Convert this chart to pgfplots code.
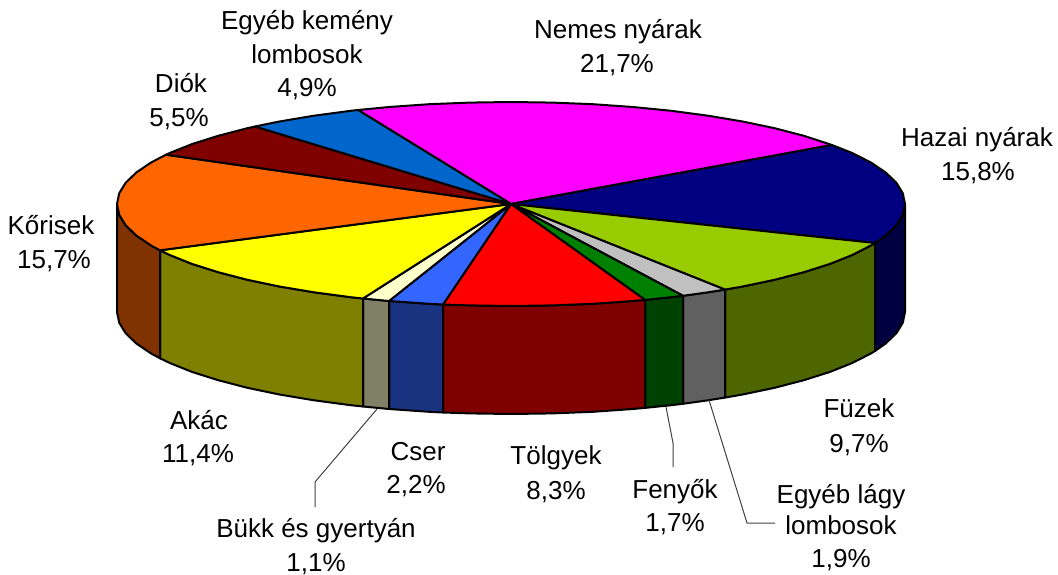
\documentclass[border=0pt]{standalone}
\usepackage{pgfplots}
\pgfplotsset{compat=1.18}
\usepackage{fontspec}
\setmainfont{Liberation Sans}
\definecolor{cNemes}{HTML}{FF00FF}
\definecolor{cHazai}{HTML}{000080}
\definecolor{cHazaiW}{HTML}{000040}
\definecolor{cFuzek}{HTML}{99CC00}
\definecolor{cFuzekW}{HTML}{4D6600}
\definecolor{cLagy}{HTML}{C0C0C0}
\definecolor{cLagyW}{HTML}{606060}
\definecolor{cFeny}{HTML}{008000}
\definecolor{cFenyW}{HTML}{004000}
\definecolor{cTolgy}{HTML}{FF0000}
\definecolor{cTolgyW}{HTML}{800000}
\definecolor{cCser}{HTML}{3366FF}
\definecolor{cCserW}{HTML}{1A3380}
\definecolor{cBukk}{HTML}{FFFFCC}
\definecolor{cBukkW}{HTML}{808066}
\definecolor{cAkac}{HTML}{FFFF00}
\definecolor{cAkacW}{HTML}{808000}
\definecolor{cKoris}{HTML}{FF6600}
\definecolor{cKorisW}{HTML}{803300}
\definecolor{cDio}{HTML}{800000}
\definecolor{cKemeny}{HTML}{0066CC}
\begin{document}
\begin{tikzpicture}[
  lab/.style={font=\fontsize{26}{26}\selectfont,text=black,inner sep=0pt,anchor=base},
  lead/.style={draw=black!75,line width=1pt}]
\begin{axis}[
  hide axis, scale only axis, width=1058pt, height=575pt, clip=false,
  xmin=0, xmax=1058, ymin=0, ymax=575, y dir=reverse,
  sl/.style={draw=black,line width=2pt,line join=round,mark=none},
]
\path (axis cs:0,0) rectangle (axis cs:1058,575);
% side walls
\addplot[sl,fill=cHazaiW] coordinates {(905,204)(902.8,214.7)(896.4,225.2)(885.7,235.5)(875,243)(875,351)(885.7,343.5)(896.4,333.2)(902.8,322.7)(905,312)} -- cycle;
\addplot[sl,fill=cFuzekW] coordinates {(875,243)(870.9,245.5)(852.2,255)(829.7,264)(803.8,272.2)(774.6,279.8)(742.6,286.5)(725,289.6)(725,397.6)(742.6,394.5)(774.6,387.8)(803.8,380.2)(829.7,372)(852.2,363)(870.9,353.5)(875,351)} -- cycle;
\addplot[sl,fill=cLagyW] coordinates {(725,289.6)(708,292.3)(683,295.8)(683,403.8)(708,400.3)(725,397.6)} -- cycle;
\addplot[sl,fill=cFenyW] coordinates {(683,295.8)(671.3,297.2)(645,299.9)(645,407.9)(671.3,405.2)(683,403.8)} -- cycle;
\addplot[sl,fill=cTolgyW] coordinates {(645,299.9)(632.8,301)(592.9,303.8)(552.2,305.4)(511,306)(469.8,305.4)(443,304.5)(443,412.5)(469.8,413.4)(511,414)(552.2,413.4)(592.9,411.8)(632.8,409)(645,407.9)} -- cycle;
\addplot[sl,fill=cCserW] coordinates {(443,304.5)(429.1,303.8)(389,301)(389,409)(429.1,411.8)(443,412.5)} -- cycle;
\addplot[sl,fill=cBukkW] coordinates {(389,301)(363,298.5)(363,406.5)(389,409)} -- cycle;
\addplot[sl,fill=cAkacW] coordinates {(363,298.5)(350.7,297.2)(314,292.3)(279.4,286.5)(247.4,279.8)(218.2,272.2)(192.3,264)(169.8,255)(160,250.3)(160,358.3)(169.8,363)(192.3,372)(218.2,380.2)(247.4,387.8)(279.4,394.5)(314,400.3)(350.7,405.2)(363,406.5)} -- cycle;
\addplot[sl,fill=cKorisW] coordinates {(160,250.3)(151.1,245.5)(136.3,235.5)(125.6,225.2)(119.2,214.7)(117,204)(117,312)(119.2,322.7)(125.6,333.2)(136.3,343.5)(151.1,353.5)(160,358.3)} -- cycle;
% top wedges
\addplot[sl,fill=cNemes] coordinates {(511,204)(358,110)(389.2,107)(429.1,104.2)(469.8,102.6)(511,102)(552.2,102.6)(592.9,104.2)(632.8,107)(671.3,110.8)(708,115.7)(742.6,121.5)(774.6,128.2)(803.8,135.8)(832,145)} -- cycle;
\addplot[sl,fill=cHazai] coordinates {(511,204)(832,145)(852.2,153)(870.9,162.5)(885.7,172.5)(896.4,182.8)(902.8,193.3)(905,204)(902.8,214.7)(896.4,225.2)(885.7,235.5)(875,243)} -- cycle;
\addplot[sl,fill=cFuzek] coordinates {(511,204)(875,243)(870.9,245.5)(852.2,255)(829.7,264)(803.8,272.2)(774.6,279.8)(742.6,286.5)(725,289.6)} -- cycle;
\addplot[sl,fill=cLagy] coordinates {(511,204)(725,289.6)(708,292.3)(683,295.8)} -- cycle;
\addplot[sl,fill=cFeny] coordinates {(511,204)(683,295.8)(671.3,297.2)(645,299.9)} -- cycle;
\addplot[sl,fill=cTolgy] coordinates {(511,204)(645,299.9)(632.8,301)(592.9,303.8)(552.2,305.4)(511,306)(469.8,305.4)(443,304.5)} -- cycle;
\addplot[sl,fill=cCser] coordinates {(511,204)(443,304.5)(429.1,303.8)(389,301)} -- cycle;
\addplot[sl,fill=cBukk] coordinates {(511,204)(389,301)(363,298.5)} -- cycle;
\addplot[sl,fill=cAkac] coordinates {(511,204)(363,298.5)(350.7,297.2)(314,292.3)(279.4,286.5)(247.4,279.8)(218.2,272.2)(192.3,264)(169.8,255)(160,250.3)} -- cycle;
\addplot[sl,fill=cKoris] coordinates {(511,204)(160,250.3)(151.1,245.5)(136.3,235.5)(125.6,225.2)(119.2,214.7)(117,204)(119.2,193.3)(125.6,182.8)(136.3,172.5)(151.1,162.5)(166,154.7)} -- cycle;
\addplot[sl,fill=cDio] coordinates {(511,204)(166,154.7)(169.8,153)(192.3,144)(218.2,135.8)(247.4,128.2)(255,126.5)} -- cycle;
\addplot[sl,fill=cKemeny] coordinates {(511,204)(255,126.5)(279.4,121.5)(314,115.7)(350.7,110.8)(358,110)} -- cycle;
% leader lines
\draw[lead] (axis cs:377,409) -- (axis cs:315,482) -- (axis cs:315,507);
\draw[lead] (axis cs:666,407) -- (axis cs:673,443) -- (axis cs:673,467);
\draw[lead] (axis cs:709,400) -- (axis cs:747,523) -- (axis cs:775,523);
% labels (baselines)
\node[lab] at (axis cs:618,39) {Nemes nyárak};
\node[lab] at (axis cs:617,73) {21,7\%};
\node[lab] at (axis cs:977,147) {Hazai nyárak};
\node[lab] at (axis cs:978,180) {15,8\%};
\node[lab] at (axis cs:859,417) {Füzek};
\node[lab] at (axis cs:859,452) {9,7\%};
\node[lab] at (axis cs:841,503) {Egyéb lágy};
\node[lab] at (axis cs:841,534) {lombosok};
\node[lab] at (axis cs:841,567) {1,9\%};
\node[lab] at (axis cs:675,498) {Fenyők};
\node[lab] at (axis cs:675,531) {1,7\%};
\node[lab] at (axis cs:556,464) {Tölgyek};
\node[lab] at (axis cs:556,499) {8,3\%};
\node[lab] at (axis cs:418,460) {Cser};
\node[lab] at (axis cs:416,493) {2,2\%};
\node[lab] at (axis cs:316,537) {Bükk és gyertyán};
\node[lab] at (axis cs:316,571) {1,1\%};
\node[lab] at (axis cs:199,429) {Akác};
\node[lab] at (axis cs:198,462) {11,4\%};
\node[lab] at (axis cs:51,234) {Kőrisek};
\node[lab] at (axis cs:54,268) {15,7\%};
\node[lab] at (axis cs:181,93) {Diók};
\node[lab] at (axis cs:179,127) {5,5\%};
\node[lab] at (axis cs:307,30) {Egyéb kemény};
\node[lab] at (axis cs:307,64) {lombosok};
\node[lab] at (axis cs:307,97) {4,9\%};
\end{axis}
\end{tikzpicture}
\end{document}
